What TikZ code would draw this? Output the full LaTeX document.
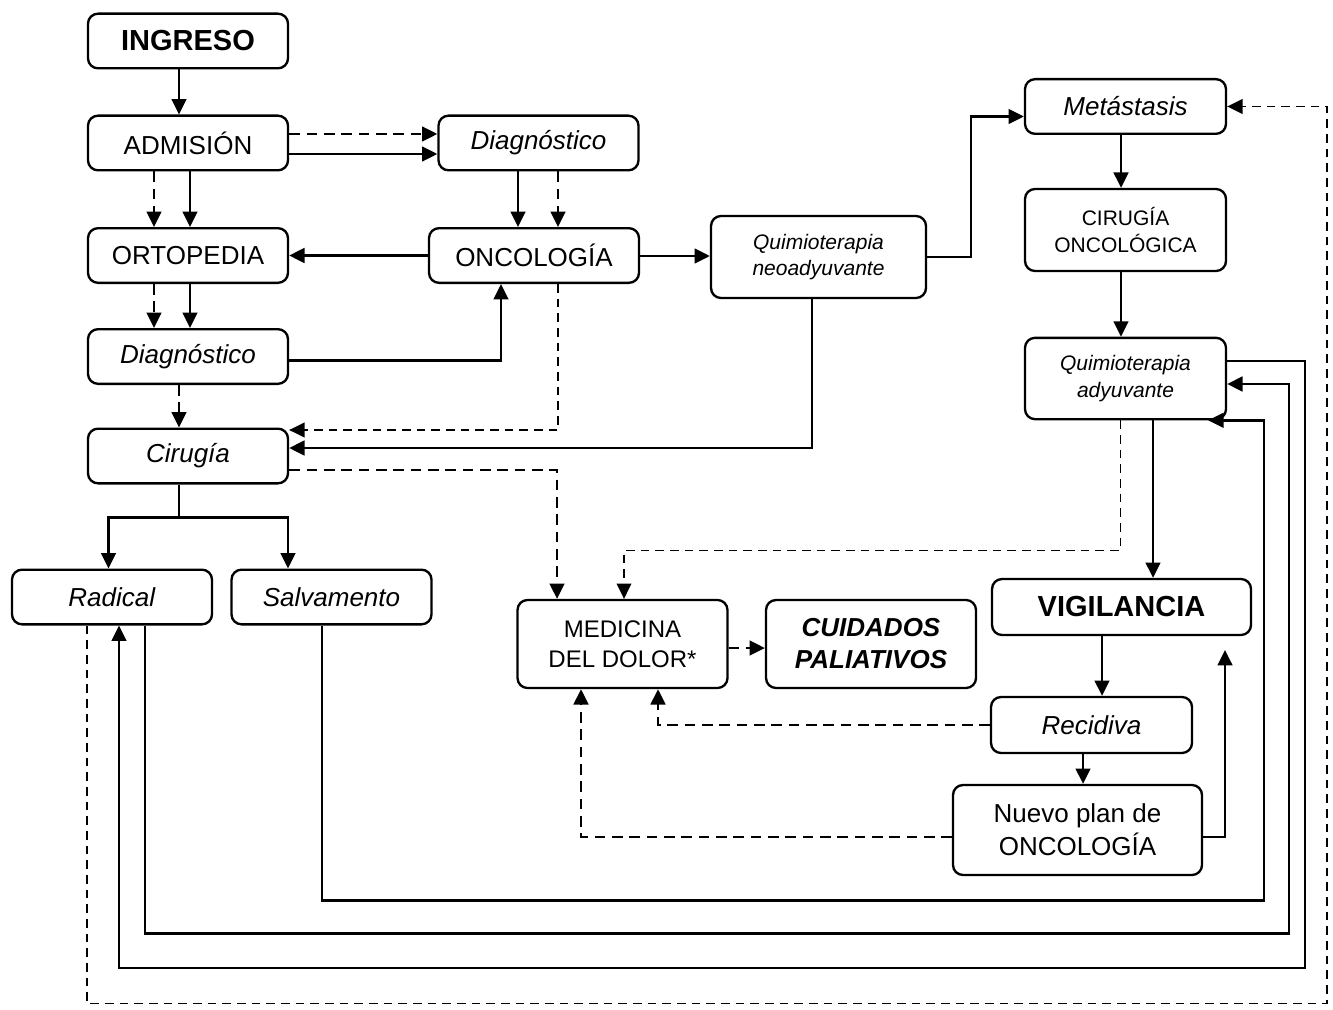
\documentclass[tikz,border=0pt]{standalone}
\usepackage{fontspec}
\setmainfont{Liberation Sans}
\usetikzlibrary{arrows.meta,calc}

\tikzset{every picture/.style={line width=1.75pt}}
\tikzset{
  box/.style={draw, rounded corners=7.5pt, align=center, inner sep=0pt,
    minimum width=150pt, minimum height=41pt, font=\fontsize{19.5}{23}\selectfont},
  boldtxt/.style={font=\fontsize{21.75}{26}\selectfont\bfseries},
  smallit/.style={font=\fontsize{15.75}{20}\selectfont\itshape},
  arr/.style={-{Triangle[length=11.5pt,width=11pt]}},
  dashln/.style={dash pattern=on 8pt off 5pt},
  thinln/.style={line width=1.2pt, dash pattern=on 6.5pt off 4.5pt},
}

\begin{document}
\begin{tikzpicture}[x=0.75pt,y=0.75pt,yscale=-1,xscale=1]
\useasboundingbox (0,0) rectangle (1333,1009);

%Rounded Rect: left column
\node[box,boldtxt] (ingreso) at (188,41) {INGRESO};
\node[box] (admision) at (188,143) {ADMISIÓN};
\node[box] (ortopedia) at (188,255.5) {ORTOPEDIA};
\node[box] (diagB) at (188,356.5) {\textit{Diagnóstico}};
\node[box] (cirugia) at (188,456) {\textit{Cirugía}};
\node[box] (radical) at (112,597) {\textit{Radical}};
\node[box] (salvamento) at (331.5,597) {\textit{Salvamento}};
%Rounded Rect: middle
\node[box] (diagA) at (538.5,143) {\textit{Diagnóstico}};
\node[box,minimum width=157.5pt] (oncologia) at (534,255.5) {ONCOLOGÍA};
\node[box,smallit,minimum width=161.25pt,minimum height=61.5pt] (qneo) at (818.5,257) {Quimioterapia\\neoadyuvante};
\node[box,minimum width=157.5pt,minimum height=66pt,font=\fontsize{18}{22.5}\selectfont] (medicina) at (622.5,644) {MEDICINA\\DEL DOLOR*};
\node[box,minimum width=157.5pt,minimum height=66pt,font=\fontsize{19.5}{24}\selectfont\bfseries\itshape] (cuidados) at (871,644) {CUIDADOS\\PALIATIVOS};
%Rounded Rect: right column
\node[box,minimum width=150.75pt] (metastasis) at (1125.5,106.5) {\textit{Metástasis}};
\node[box,minimum width=150.75pt,minimum height=61.5pt,font=\fontsize{15.75}{20}\selectfont] (cirOnc) at (1125.5,230) {CIRUGÍA\\ONCOLÓGICA};
\node[box,smallit,minimum width=150.75pt,minimum height=61pt] (qady) at (1125.5,378.5) {Quimioterapia\\adyuvante};
\node[box,boldtxt,minimum width=194.25pt,minimum height=42pt] (vigilancia) at (1121.5,607) {VIGILANCIA};
\node[box,minimum width=150.75pt,minimum height=42pt] (recidiva) at (1091.5,725) {\textit{Recidiva}};
\node[box,minimum width=186.75pt,minimum height=67.5pt,font=\fontsize{19.5}{25}\selectfont] (nuevo) at (1077.5,830) {Nuevo plan de\\ONCOLOGÍA};
\coordinate (vigret) at (1225,650);

%Straight Lines: top part
\draw[arr] ($(ingreso.south)+(-9,0)$) -- ($(admision.north)+(-9,0)$);
\draw[arr,dashln] ($(admision.east)+(0,-9)$) -- ($(diagA.west)+(0,-9)$);
\draw[arr] ($(admision.east)+(0,11)$) -- ($(diagA.west)+(0,11)$);
\draw[arr,dashln] ($(admision.south)+(-34,0)$) -- ($(ortopedia.north)+(-34,0)$);
\draw[arr] ($(admision.south)+(2,0)$) -- ($(ortopedia.north)+(2,0)$);
\draw[arr] ($(diagA.south)+(-20.5,0)$) -- ($(oncologia.north)+(-16,0)$);
\draw[arr,dashln] ($(diagA.south)+(19.5,0)$) -- ($(oncologia.north)+(24,0)$);
\draw[arr] (oncologia.west) -- (ortopedia.east);
\draw[arr,dashln] ($(ortopedia.south)+(-34,0)$) -- ($(diagB.north)+(-34,0)$);
\draw[arr] ($(ortopedia.south)+(2,0)$) -- ($(diagB.north)+(2,0)$);
\draw[arr] ($(diagB.east)+(0,4)$) -| ($(oncologia.south)+(-33,0)$);
\draw[arr,dashln] ($(diagB.south)+(-9,0)$) -- ($(cirugia.north)+(-9,0)$);
\draw[arr,thinln] ($(oncologia.south)+(24,0)$) |- ($(cirugia.east)+(0,-26)$);
\draw[arr] ($(qneo.south)+(-6.5,0)$) |- ($(cirugia.east)+(0,-8)$);
\draw[arr] ($(oncologia.east)+(0,0.5)$) -- ($(qneo.west)+(0,-1)$);
\draw[arr] (qneo.east) -- ++(44,0) |- ($(metastasis.west)+(0,10)$);
\draw[arr] ($(metastasis.south)+(-4.5,0)$) -- ($(cirOnc.north)+(-4.5,0)$);
\draw[arr] ($(cirOnc.south)+(-4.5,0)$) -- ($(qady.north)+(-4.5,0)$);
\draw[arr] ($(qady.south)+(27.5,0)$) -- ($(vigilancia.north)+(31.5,0)$);

%Straight Lines: branches of Cirugia
\draw[arr] ($(cirugia.south)+(-9,0)$) -- ++(0,33) -| ($(radical.north)+(-3.5,0)$);
\draw[arr] ($(cirugia.south)+(-9,0)$) -- ++(0,33) -| ($(salvamento.north)+(-43.5,0)$);

%Straight Lines: pain medicine
\draw[arr,dashln] ($(cirugia.east)+(0,14)$) -| ($(medicina.north)+(-65.5,0)$);
\draw[arr,thinln] ($(qady.south)+(-5,0)$) -- ++(0,130) -| ($(medicina.north)+(1.5,0)$);
\draw[arr,dashln] ($(medicina.east)+(0,4)$) -- ($(cuidados.west)+(0,4)$);
\draw[arr,dashln] (recidiva.west) -| ($(medicina.south)+(35.5,0)$);
\draw[arr,dashln] ($(nuevo.west)+(0,7)$) -| ($(medicina.south)+(-41.5,0)$);

%Straight Lines: follow-up
\draw[arr] ($(vigilancia.south)+(-19.5,0)$) -- ($(recidiva.north)+(10.5,0)$);
\draw[arr] ($(recidiva.south)+(-8.5,0)$) -- ($(nuevo.north)+(5.5,0)$);
\draw[arr] ($(nuevo.east)+(0,7)$) -| (vigret);

%Straight Lines: return loops
\draw[arr] ($(salvamento.south)+(-9.5,0)$) -- ++(0,275) -- ++(942,0) |- ($(qady.south east)+(-19,0)$);
\draw[arr] ($(radical.south)+(33,0)$) -- ++(0,308) -- ++(1144,0) |- ($(qady.east)+(0,5.5)$);
\draw[arr] ($(qady.east)+(0,-17.5)$) -- ++(78,0) -- ++(0,607) -| ($(radical.south)+(7,0)$);
\draw[arr,thinln] ($(radical.south)+(-25,0)$) -- ++(0,378) -- ++(1240,0) |- (metastasis.east);

\end{tikzpicture}
\end{document}
